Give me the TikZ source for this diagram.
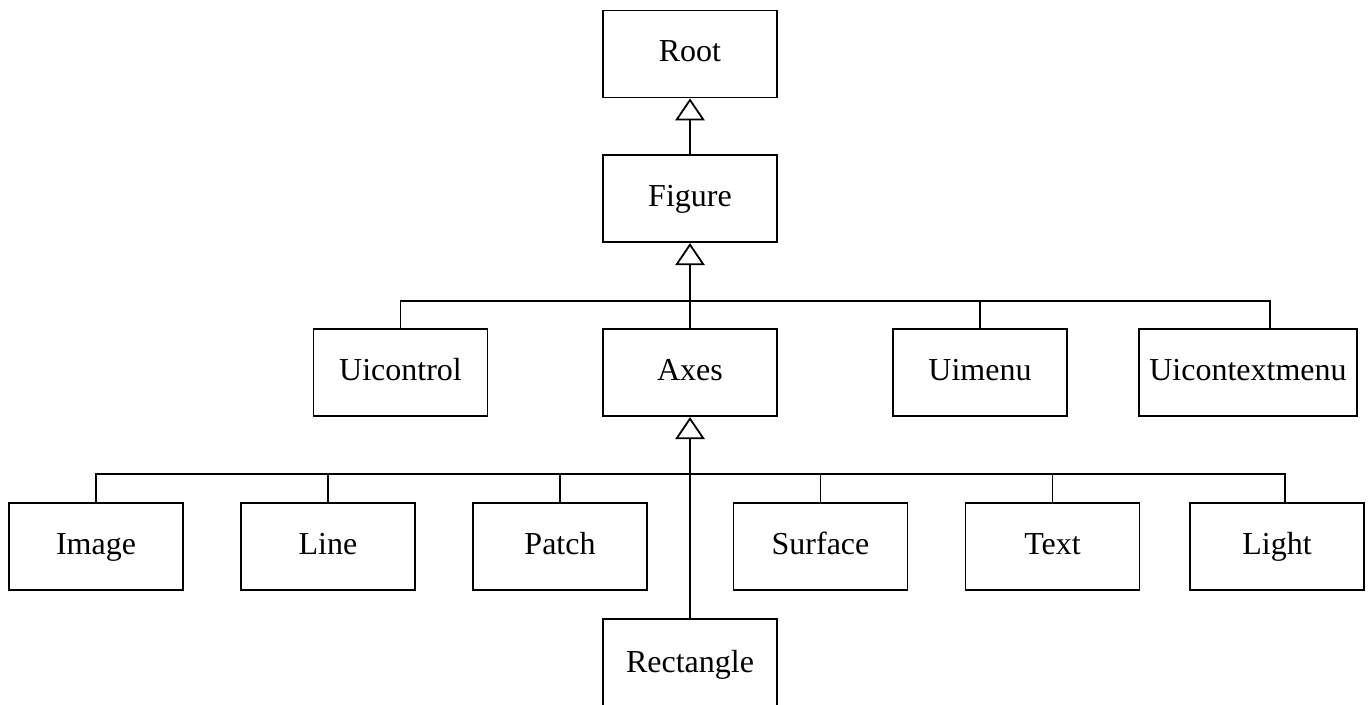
\documentclass[tikz,border=0pt]{standalone}
\usepackage{fontspec}
\setmainfont{Liberation Serif}
\usetikzlibrary{arrows.meta}

\begin{document}
\begin{tikzpicture}[x=0.5pt, y=-0.5pt,
    box/.style={draw, line width=0.9pt, minimum width=87pt, minimum height=43.5pt,
        inner sep=0pt, text height=11pt, text depth=3.2pt,
        font=\fontsize{16}{19}\selectfont},
    inherit/.style={line width=0.9pt, -{Triangle[open, length=11pt, width=14.7pt]}},
    wire/.style={line width=0.9pt}]
    \useasboundingbox (0,0) rectangle (1368,705);

    % Top levels
    \node[box] (root) at (690,54) {Root};
    \node[box] (figure) at (690,198.7) {Figure};

    % Children of figure
    \node[box] (uicontrol) at (400.5,372.7) {Uicontrol};
    \node[box] (axes) at (690,372.7) {Axes};
    \node[box] (uimenu) at (980,372.7) {Uimenu};
    \node[box, minimum width=109pt] (uicontextmenu) at (1248,372.7) {Uicontextmenu};

    % Children of axes
    \node[box] (image) at (96,546.5) {Image};
    \node[box] (line) at (328,546.5) {Line};
    \node[box] (patch) at (560,546.5) {Patch};
    \node[box] (surface) at (820.5,546.5) {Surface};
    \node[box] (text) at (1052.5,546.5) {Text};
    \node[box] (light) at (1277,546.5) {Light};
    \node[box, minimum height=46pt] (rectangle) at (690,665) {Rectangle};

    % Generalisation arrows
    \coordinate (busfig) at (690,300.7);
    \coordinate (busaxes) at (690,474);
    \draw[inherit] (figure) -- (root);
    \draw[inherit] (axes) -- (figure);
    \draw[inherit] (rectangle) -- (axes);

    % Bus lines
    \draw[wire] (uicontrol.north) |- (busfig) -| ([xshift=11pt]uicontextmenu.north);
    \draw[wire] (uimenu.north) -- (uimenu.north |- busfig);
    \draw[wire] (image.north) |- (busaxes) -| ([xshift=3.85pt]light.north);
    \foreach \n in {line, patch, surface, text}
        \draw[wire] (\n.north) -- (\n.north |- busaxes);
\end{tikzpicture}
\end{document}
